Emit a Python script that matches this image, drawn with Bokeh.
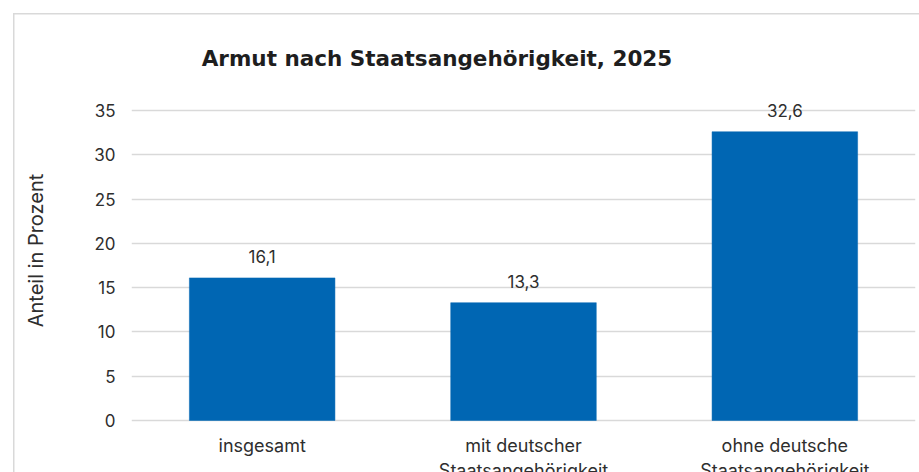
from bokeh.plotting import figure
from bokeh.models import (ColumnDataSource, FactorRange, Range1d, FixedTicker,
                          LabelSet, Label)
from bokeh.core.properties import value
from bokeh.embed import file_html
from bokeh.resources import INLINE

# ---- data ----
categories = ["insgesamt", "mit deutscher\nStaatsangehörigkeit", "ohne deutsche\nStaatsangehörigkeit"]
values = [16.1, 13.3, 32.6]
value_labels = [f"{v:.1f}".replace(".", ",") for v in values]
y_ticks = [0, 5, 10, 15, 20, 25, 30, 35]
title_text = "Armut nach Staatsangehörigkeit, 2025"
y_title = "Anteil in Prozent"

FONT = "Inter"
TEXT = "#2e2e2e"
BAR = "#0066b3"
GRID = "#d9d9d9"

W, H = 919, 472
FRAME_LEFT, FRAME_RIGHT = 131, 915
FRAME_TOP = 28          # chosen so the y-axis title is centred where the reference has it
Y35, Y0 = 110, 420
PX = (Y0 - Y35) / 35.0
y_end = 35 + (Y35 - FRAME_TOP) / PX
y_start = -(H - Y0) / PX

src = ColumnDataSource(dict(cat=categories, val=values, lab=value_labels))

border_css = {
    "background-image": f"linear-gradient({GRID},{GRID}), linear-gradient({GRID},{GRID})",
    "background-size": "calc(100% - 13px) 1.5px, 1.5px calc(100% - 13px)",
    "background-position": "13px 13px, 13px 13px",
    "background-repeat": "no-repeat",
}

p = figure(width=W, height=H, output_backend="svg", toolbar_location=None,
           x_range=FactorRange(*categories, range_padding=0),
           y_range=Range1d(y_start, y_end),
           min_border_left=FRAME_LEFT, min_border_right=W - FRAME_RIGHT,
           min_border_top=FRAME_TOP, min_border_bottom=0,
           styles=border_css)
p.outline_line_color = None
p.background_fill_color = "white"
p.border_fill_color = None

p.vbar(x="cat", top="val", bottom=0, width=0.557, source=src,
       fill_color=BAR, line_color=BAR, line_width=0.5)

p.add_layout(LabelSet(x="cat", y="val", text="lab", source=src,
                      y_offset=14.5, text_align="center", text_baseline="alphabetic",
                      text_font=value(FONT), text_font_size="17px", text_color=TEXT))

# y axis
yax = p.yaxis[0]
yax.ticker = FixedTicker(ticks=y_ticks)
yax.axis_line_color = None
yax.major_tick_line_color = None
yax.minor_tick_line_color = None
yax.major_tick_in = 0
yax.major_tick_out = 0
yax.major_label_standoff = 16
yax.major_label_text_font = FONT
yax.major_label_text_font_size = "17px"
yax.major_label_text_color = TEXT
yax.axis_label = y_title
yax.axis_label_standoff = 43
yax.axis_label_text_font = FONT
yax.axis_label_text_font_size = "20px"
yax.axis_label_text_font_style = "normal"
yax.axis_label_text_color = TEXT

# x axis (at y = 0, labels below the zero line)
xax = p.xaxis[0]
xax.fixed_location = 0
xax.axis_line_color = None
xax.major_tick_line_color = None
xax.minor_tick_line_color = None
xax.major_tick_in = 0
xax.major_tick_out = 0
xax.major_label_standoff = 14
xax.major_label_text_font = FONT
xax.major_label_text_font_size = "18px"
xax.major_label_text_color = TEXT
xax.major_label_text_line_height = 1.22

p.xgrid.grid_line_color = None
p.ygrid.ticker = FixedTicker(ticks=y_ticks)
p.ygrid.grid_line_color = GRID
p.ygrid.grid_line_width = 1.5

# chart title (inside the frame, above the plotted values)
p.add_layout(Label(x=436.5 - FRAME_LEFT, x_units="screen", y=40.9, text=title_text,
                   text_align="center", text_baseline="alphabetic",
                   text_font="DejaVu Sans", text_font_size="21.5px",
                   text_font_style="bold", text_color="#1e1e1e"))

open("out.html", "w").write(file_html(p, INLINE))
